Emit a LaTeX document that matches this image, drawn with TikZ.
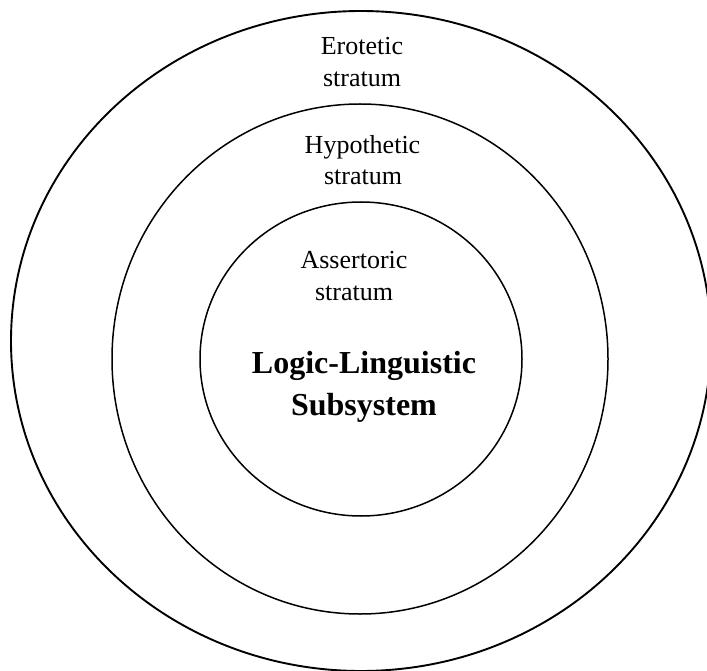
\documentclass[tikz,border=0pt]{standalone}
\usepackage{fontspec}
\setmainfont{Liberation Serif}
\begin{document}
\begin{tikzpicture}[x=1pt,y=-1pt,
  ring/.style={draw=black,line width=1.5pt},
  outerring/.style={draw=black,line width=1.9pt},
  lbl/.style={anchor=base,inner sep=0pt,font=\fontsize{26}{32}\selectfont},
  title/.style={anchor=base,inner sep=0pt,font=\fontsize{32}{42}\selectfont\bfseries}]
\useasboundingbox (0,0) rectangle (707,671);
\draw[outerring] (361,341) ellipse [x radius=350pt, y radius=330pt];
\draw[ring] (360,359) ellipse [x radius=248pt, y radius=255pt];
\draw[ring] (361,359) ellipse [x radius=161pt, y radius=157pt];
\node[lbl] (ero1) at (362,55) {Erotetic};
\node[lbl] (ero2) at (362,87) {stratum};
\node[lbl] (hyp1) at (362.5,154) {Hypothetic};
\node[lbl] (hyp2) at (363,185) {stratum};
\node[lbl] (ass1) at (354,269) {Assertoric};
\node[lbl] (ass2) at (354,300) {stratum};
\node[title] (t1) at (364,373) {Logic-Linguistic};
\node[title] (t2) at (364,415) {Subsystem};
\end{tikzpicture}
\end{document}
